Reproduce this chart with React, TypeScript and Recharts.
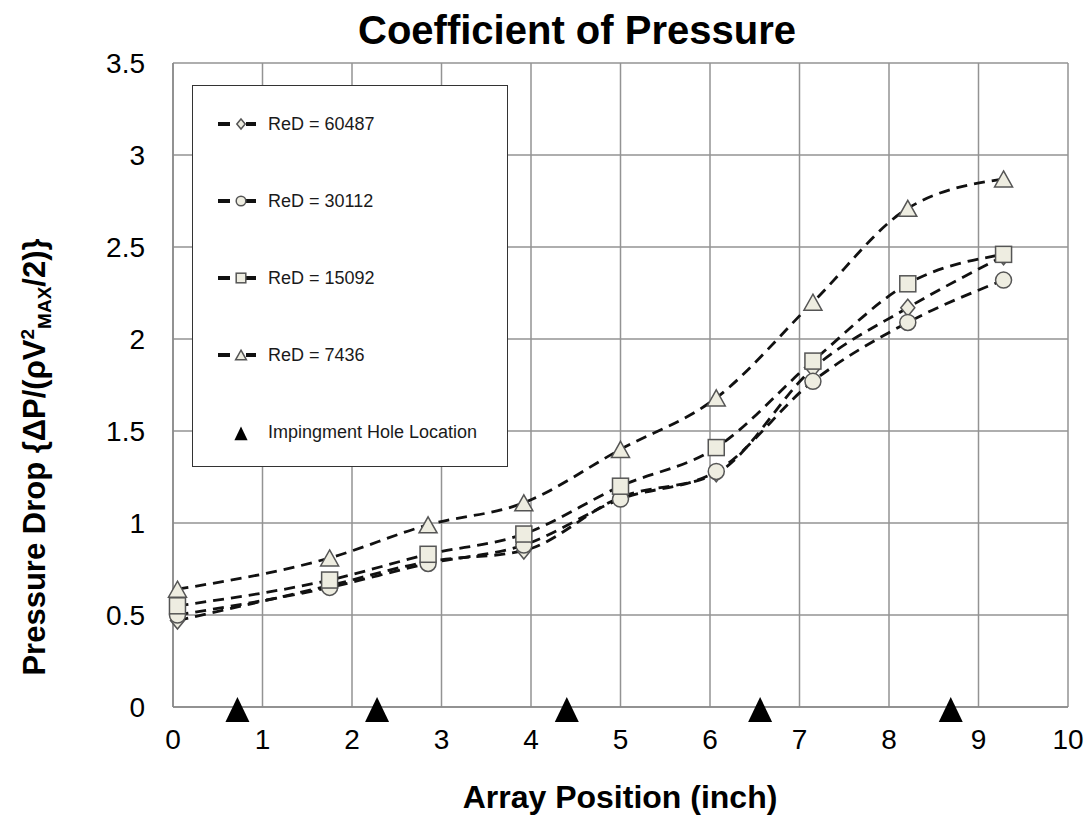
import { CartesianGrid, ComposedChart, Legend, Line, Scatter, XAxis, YAxis } from "recharts"

const FONT = '"Liberation Sans", Arial, sans-serif'

// array positions (inch) where the pressure taps sit
const positions = [0.05, 1.75, 2.85, 3.92, 5.0, 6.07, 7.15, 8.21, 9.28]

// pressure drop coefficient per Reynolds number
const re60487 = [0.47, 0.66, 0.79, 0.85, 1.14, 1.27, 1.84, 2.17, 2.45]
const re30112 = [0.5, 0.65, 0.78, 0.88, 1.13, 1.28, 1.77, 2.09, 2.32]
const re15092 = [0.55, 0.69, 0.83, 0.94, 1.2, 1.41, 1.88, 2.3, 2.46]
const re7436 = [0.64, 0.81, 0.99, 1.11, 1.4, 1.68, 2.2, 2.71, 2.87]

// impingement hole locations along the array
const holes = [0.72, 2.28, 4.4, 6.56, 8.69]

const xTicks = [0, 1, 2, 3, 4, 5, 6, 7, 8, 9, 10]
const yTicks = [0, 0.5, 1, 1.5, 2, 2.5, 3, 3.5]

const series = [
  { key: "re60487", name: "ReD = 60487", marker: "diamond" },
  { key: "re30112", name: "ReD = 30112", marker: "circle" },
  { key: "re15092", name: "ReD = 15092", marker: "square" },
  { key: "re7436", name: "ReD = 7436", marker: "triangle" },
]

const data = positions.map((x, i) => ({
  x,
  re60487: re60487[i],
  re30112: re30112[i],
  re15092: re15092[i],
  re7436: re7436[i],
}))

const holeData = holes.map((x) => ({ x, y: 0 }))

const MARKER_FILL = "#eeede1"
const MARKER_STROKE = "#555"

function Marker({ kind, cx, cy, s = 1 }: { kind: string; cx: number; cy: number; s?: number }) {
  if (kind === "diamond") {
    const w = 7 * s
    const h = 8.5 * s
    return (
      <polygon
        points={`${cx},${cy - h} ${cx + w},${cy} ${cx},${cy + h} ${cx - w},${cy}`}
        fill={MARKER_FILL}
        stroke={MARKER_STROKE}
        strokeWidth={1.5}
      />
    )
  }
  if (kind === "circle") {
    return <circle cx={cx} cy={cy} r={8 * s} fill={MARKER_FILL} stroke={MARKER_STROKE} strokeWidth={1.5} />
  }
  if (kind === "square") {
    const h = 8 * s
    return (
      <rect
        x={cx - h}
        y={cy - h}
        width={2 * h}
        height={2 * h}
        fill={MARKER_FILL}
        stroke={MARKER_STROKE}
        strokeWidth={1.5}
      />
    )
  }
  if (kind === "triangle") {
    const w = 9 * s
    const h = 8 * s
    return (
      <polygon
        points={`${cx},${cy - h} ${cx + w},${cy + h} ${cx - w},${cy + h}`}
        fill={MARKER_FILL}
        stroke={MARKER_STROKE}
        strokeWidth={1.5}
      />
    )
  }
  // impingement hole: solid black triangle
  const w = 12 * s
  return <polygon points={`${cx},${cy - 10 * s} ${cx + w},${cy + 15 * s} ${cx - w},${cy + 15 * s}`} fill="#000" />
}

function HoleShape(props: any) {
  return <Marker kind="hole" cx={props.cx} cy={props.cy} />
}

function LegendBox(props: any) {
  // keep the series order, holes last
  const rank = (e: any) => {
    const idx = series.findIndex((d) => d.key === e.dataKey)
    return idx < 0 ? series.length : idx
  }
  const payload = [...(props.payload ?? [])].sort((a, b) => rank(a) - rank(b))
  return (
    <div
      style={{
        width: 316,
        height: 382,
        boxSizing: "border-box",
        border: "1.5px solid #333",
        background: "#fff",
        position: "relative",
        fontFamily: FONT,
        fontSize: 18,
        color: "#1a1a1a",
      }}
    >
      {payload.map((entry: any, i: number) => {
        const s = series.find((d) => d.key === entry.dataKey)
        const kind = s ? s.marker : "hole"
        return (
          <div key={i} style={{ position: "absolute", left: 0, top: 23 + i * 77, width: "100%", height: 30 }}>
            <svg width={60} height={30} style={{ position: "absolute", left: 20, top: 0 }}>
              {s && (
                <>
                  <line x1={5} x2={17} y1={15} y2={15} stroke="#111" strokeWidth={4} />
                  <line x1={33} x2={43} y1={15} y2={15} stroke="#111" strokeWidth={4} />
                </>
              )}
              <Marker kind={kind} cx={28} cy={15} s={s ? 0.6 : 0.55} />
            </svg>
            <span style={{ position: "absolute", left: 75, top: 0, lineHeight: "30px", whiteSpace: "nowrap" }}>
              {entry.value}
            </span>
          </div>
        )
      })}
    </div>
  )
}

function YTitle(props: any) {
  const vb = props.viewBox || { x: 0 }
  const x = vb.x + 45
  const y = 457
  return (
    <text
      x={x}
      y={y}
      transform={`rotate(-90, ${x}, ${y})`}
      textAnchor="middle"
      fontFamily={FONT}
      fontWeight="bold"
      fontSize={31}
      fill="#000"
    >
      {"Pressure Drop {ΔP/(ρV"}
      <tspan fontSize={19} dy={-11}>
        2
      </tspan>
      <tspan fontSize={19} dy={17}>
        MAX
      </tspan>
      <tspan dy={-6}>{"/2)}"}</tspan>
    </text>
  )
}

function XTitle() {
  return (
    <text x={620} y={808} textAnchor="middle" fontFamily={FONT} fontWeight="bold" fontSize={32} fill="#000">
      Array Position (inch)
    </text>
  )
}

export default function App() {
  return (
    <div style={{ position: "absolute", left: 0, top: 0, width: 1091, height: 818, background: "#fff" }}>
      <div
        style={{
          position: "absolute",
          left: 0,
          top: 10,
          width: 1154,
          textAlign: "center",
          fontFamily: FONT,
          fontWeight: "bold",
          fontSize: 40,
          lineHeight: "40px",
          zIndex: 2,
        }}
      >
        Coefficient of Pressure
      </div>
      <ComposedChart width={1091} height={818} data={data} margin={{ top: 63, right: 23, left: 0, bottom: 0 }}>
        <CartesianGrid stroke="#939393" strokeWidth={1.5} />
        <XAxis
          dataKey="x"
          type="number"
          domain={[0, 10]}
          ticks={xTicks}
          height={111}
          tickSize={0}
          tickMargin={22}
          stroke="#888"
          strokeWidth={1.5}
          tick={{ fill: "#000", fontSize: 28, fontFamily: FONT }}
          label={{ content: <XTitle /> }}
        />
        <YAxis
          type="number"
          domain={[0, 3.5]}
          ticks={yTicks}
          width={173}
          tickSize={0}
          tickMargin={28}
          stroke="#888"
          strokeWidth={1.5}
          tick={{ fill: "#000", fontSize: 28, fontFamily: FONT }}
          label={{ content: <YTitle /> }}
        />
        {series.map((s) => (
          <Line
            key={s.key}
            type="monotone"
            dataKey={s.key}
            name={s.name}
            stroke="#111"
            strokeWidth={2.8}
            strokeDasharray="11 7"
            activeDot={false}
            isAnimationActive={false}
            dot={(p: any) => <Marker key={`${s.key}-${p.index}`} kind={s.marker} cx={p.cx} cy={p.cy} />}
          />
        ))}
        <Scatter
          data={holeData}
          dataKey="y"
          name="Impingment Hole Location"
          shape={HoleShape}
          isAnimationActive={false}
        />
        <Legend
          layout="horizontal"
          verticalAlign="middle"
          align="center"
          content={<LegendBox />}
          wrapperStyle={{ left: 192, top: 85, width: 316, height: 382 }}
        />
      </ComposedChart>
    </div>
  )
}
